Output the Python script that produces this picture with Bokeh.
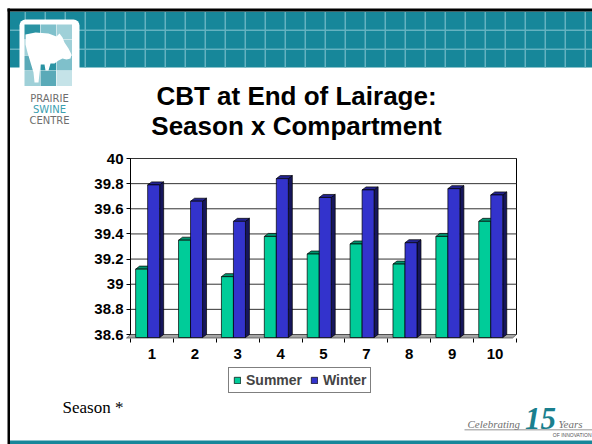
from bokeh.plotting import figure
from bokeh.models import (Range1d, BoxAnnotation, Label, PolyAnnotation, LinearAxis,
                          Legend, LegendItem, FixedTicker, NumeralTickFormatter)
from bokeh.embed import file_html
from bokeh.resources import INLINE

# ---------------- data ----------------
compartments = ["1", "2", "3", "4", "5", "7", "8", "9", "10"]
summer = [39.12, 39.35, 39.06, 39.38, 39.24, 39.32, 39.16, 39.38, 39.50]
winter = [39.79, 39.66, 39.50, 39.84, 39.69, 39.75, 39.33, 39.76, 39.71]
y_ticks = [38.6, 38.8, 39.0, 39.2, 39.4, 39.6, 39.8, 40.0]
series_names = ["Summer", "Winter"]
title_lines = ["CBT at End of Lairage:", "Season x Compartment"]
note_text = "Season *"
logo_words = ["PRAIRIE", "SWINE", "CENTRE"]

# ---------------- layout (page pixels) ----------------
W, H = 592, 444
FL, FR, FT, FB = 130, 516, 158, 334      # back wall of the chart
n = len(compartments)
idx = list(range(n))

p = figure(width=W, height=H, x_range=Range1d(0, W), y_range=Range1d(H, 0),
           x_axis_location=None, y_axis_location=None, min_border=0,
           output_backend="svg", toolbar_location=None)
p.outline_line_color = None
p.background_fill_color = "white"
p.border_fill_color = "white"
p.grid.visible = False

# chart coordinate systems mapped onto the chart area
cat_per_px = n / (FR - FL)
val_per_px = (y_ticks[-1] - y_ticks[0]) / (FB - FT)
p.extra_x_ranges = {"cat": Range1d(-0.5 - FL * cat_per_px, n - 0.5 + (W - FR) * cat_per_px)}
p.extra_y_ranges = {"temp": Range1d(y_ticks[0] - (H - FB) * val_per_px, y_ticks[-1] + FT * val_per_px)}
C = dict(x_range_name="cat", y_range_name="temp")

# back wall + gridlines
p.quad(left=-0.5, right=n - 0.5, bottom=y_ticks[0], top=y_ticks[-1],
       fill_color="white", line_color="black", line_width=1, **C)
p.segment(x0=[-0.5] * len(y_ticks), x1=[n - 0.5] * len(y_ticks), y0=y_ticks, y1=y_ticks,
          line_color="#333333", line_width=1, **C)

# floor (page px)
p.patch([FL, FR, FR - 4, FL - 4], [FB, FB, FB + 3.5, FB + 3.5],
        fill_color="#A6A6A6", line_color="#444444", line_width=0.7)

# ---------------- 3D-looking bars ----------------
DX, DY = 0.093, 0.024
base = y_ticks[0] - DY


def bar3d(vals, x0, x1, front, top, side):
    l = [i - 0.5 + x0 for i in idx]
    r = [i - 0.5 + x1 for i in idx]
    side_xs = [[ri, ri + DX, ri + DX, ri] for ri in r]
    side_ys = [[v, v + DY, base + DY, base] for v in vals]
    top_xs = [[li, li + DX, ri + DX, ri] for li, ri in zip(l, r)]
    top_ys = [[v, v + DY, v + DY, v] for v in vals]
    p.patches(side_xs, side_ys, fill_color=side, line_color="black", line_width=0.7, **C)
    p.patches(top_xs, top_ys, fill_color=top, line_color="black", line_width=0.7, **C)
    return p.quad(left=l, right=r, bottom=base, top=vals, fill_color=front,
                  line_color="black", line_width=0.7, **C)


r_s = bar3d(summer, 0.12, 0.40, "#00CC99", "#00936E", "#006B50")
r_w = bar3d(winter, 0.40, 0.68, "#3333CC", "#23238F", "#16165C")

# ---------------- axes placed at the chart ----------------
yaxis = LinearAxis(y_range_name="temp", fixed_location=FL,
                   ticker=FixedTicker(ticks=y_ticks),
                   formatter=NumeralTickFormatter(format="0.[0]"),
                   bounds=(y_ticks[0], y_ticks[-1]))
yaxis.major_tick_in = 0
yaxis.major_tick_out = 4
yaxis.major_label_standoff = 3
yaxis.minor_tick_line_color = None
p.add_layout(yaxis, "left")

xaxis = LinearAxis(x_range_name="cat", fixed_location=FB + 3.5,
                   ticker=FixedTicker(ticks=idx, minor_ticks=[i - 0.5 for i in range(n + 1)]),
                   bounds=(-0.5, n - 0.5))
xaxis.major_label_overrides = {i: c for i, c in zip(idx, compartments)}
xaxis.axis_line_color = None
xaxis.major_tick_line_color = None
xaxis.major_tick_out = 0
xaxis.major_tick_in = 0
xaxis.minor_tick_in = 0
xaxis.minor_tick_out = 4
xaxis.minor_tick_line_color = "black"
xaxis.major_label_standoff = 7
p.add_layout(xaxis, "below")

for ax in (xaxis, yaxis):
    ax.major_label_text_font = "Liberation Sans"
    ax.major_label_text_font_style = "bold"
    ax.major_label_text_font_size = "15px"
    ax.major_label_text_color = "black"

# ---------------- legend ----------------
legend = Legend(items=[LegendItem(label=series_names[0], renderers=[r_s]),
                       LegendItem(label=series_names[1], renderers=[r_w])],
                orientation="horizontal", location=(228, H - 393),
                border_line_color="black", border_line_width=1,
                background_fill_color="white", background_fill_alpha=1,
                label_text_font="Liberation Sans", label_text_font_style="bold",
                label_text_font_size="14px", glyph_width=8, glyph_height=8,
                label_standoff=5, spacing=8, padding=4, margin=0, label_height=12)
p.add_layout(legend)


# ---------------- slide decorations (page-pixel coordinates) ----------------
def box(l, r, t, b, color, **kw):
    p.add_layout(BoxAnnotation(left=l, right=r, top=t, bottom=b,
                               fill_color=color, fill_alpha=1,
                               line_color=kw.pop("line_color", None), line_alpha=1, **kw))


def label(x, y, text, size, color="black", font="Liberation Sans", style="normal", align="left"):
    p.add_layout(Label(x=x, y=y, text=text,
                       text_font=font, text_font_size=size, text_font_style=style,
                       text_color=color, text_align=align, text_baseline="middle"))


TEAL = "#17879A"
GRIDL = "#64B2C0"
# banner
box(8, W, 11, 67, TEAL)
for gx in range(24, W, 20):
    box(gx, gx + 1.5, 11, 67, GRIDL)
for gy in (29, 48):
    box(8, W, gy, gy + 1.5, GRIDL)
# black frame lines
box(7, W, 8, 11, "black")
box(7, 9.5, 8, H, "black")
# bottom strip
box(9.5, W, 440, H, TEAL)

# logo
box(19, 79, 19, 134, "white", border_radius=6)
sq = [["#2A93A3", "#7FC0CB", "#9FD0D8"],
      ["#9FD0D8", "#5AAAB8", "#9FD0D8"],
      ["#5AAAB8", "#2A93A3", "#7FC0CB"],
      ["#9FD0D8", "#5AAAB8", "#C5E3E8"]]
for ri, row in enumerate(sq):
    for ci, c in enumerate(row):
        x0 = 24 + ci * 16
        y0 = 24 + ri * 15.5
        box(x0, x0 + 15.5, y0, y0 + 15, c)
pig_x = [25, 35, 48, 56, 59, 62, 64, 68, 71, 70, 66, 62, 58, 54, 50, 48, 45, 44, 40, 39, 38, 34, 33, 30, 27, 25]
pig_y = [34, 32, 33, 36, 33, 37, 42, 48, 54, 58, 59, 58, 60, 63, 63, 70, 70, 64, 64, 73, 82, 82, 72, 62, 52, 44]
p.add_layout(PolyAnnotation(xs=pig_x, ys=pig_y, fill_color="white", fill_alpha=1, line_color=None))
label(49, 98, logo_words[0], "10px", "#6E6E6E", "DejaVu Sans", align="center")
label(49, 109, logo_words[1], "10px", "#3AA0B0", "DejaVu Sans", align="center")
label(49, 120, logo_words[2], "10px", "#6E6E6E", "DejaVu Sans", align="center")

# title
label(296, 95, title_lines[0], "26px", style="bold", align="center")
label(296, 125, title_lines[1], "26px", style="bold", align="center")

# note
label(62, 407, note_text, "17px", "black", "Liberation Serif")

# celebrating logo
label(467, 423, "Celebrating", "11px", "#707070", "Liberation Serif", style="italic")
label(540, 418, "15", "31px", "#1A7F8E", "Liberation Serif", style="bold italic", align="center")
label(558, 423, "Years", "11px", "#707070", "Liberation Serif", style="italic")
box(464, W, 429, 429.8, "#707070")
label(W - 1, 434, "OF INNOVATION", "5px", "#555555", "Liberation Sans", align="right")

open("out.html", "w").write(file_html(p, INLINE))
